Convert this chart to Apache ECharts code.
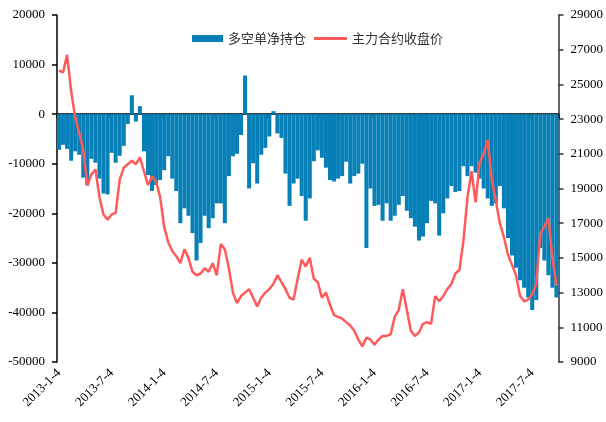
<!DOCTYPE html>
<html>
<head>
<meta charset="utf-8">
<script src="https://cdn.jsdelivr.net/npm/echarts@6/dist/echarts.min.js"></script>
<style>
html,body{margin:0;padding:0;background:#fff;}
#chart{width:606px;height:422px;}
</style>
</head>
<body>
<div id="chart"></div>
<script>
// Tick labels on the date axis (one every 13 bi-weekly periods)
var tickLabels = ['2013-1-4','2013-7-4','2014-1-4','2014-7-4','2015-1-4','2015-7-4','2016-1-4','2016-7-4','2017-1-4','2017-7-4'];

// 多空单净持仓 (bi-weekly samples)
var netPosition = [
  -7200,-6200,-7000,-9400,-7500,-8200,-12800,-14400,-9000,-9800,
  -13000,-16000,-16200,-7800,-9800,-8400,-6400,-2000,3800,-1500,
  1600,-7500,-12300,-15500,-14300,-13300,-11300,-8500,-13000,-15500,
  -22000,-19000,-20500,-24000,-29500,-26000,-20500,-23000,-21000,-18000,
  -18000,-22000,-12500,-8500,-8000,-4200,7800,-15000,-9900,-14000,
  -8200,-6800,-4500,600,-3900,-4800,-12000,-18500,-14000,-13000,
  -16500,-21500,-17000,-9500,-7300,-8800,-10800,-13300,-13600,-13000,
  -12500,-9600,-14000,-12500,-12000,-10000,-27000,-15000,-18500,-18300,
  -21500,-18000,-21500,-20500,-18300,-16500,-19500,-21000,-22700,-25500,
  -24700,-22000,-17500,-18000,-24500,-20000,-17000,-14500,-15700,-15500,
  -10500,-12500,-10500,-11800,-13000,-15000,-17000,-18500,-18000,-14500,
  -19000,-25000,-28500,-31000,-33500,-35000,-37000,-39500,-37500,-27000,
  -29500,-32500,-35000,-37000
];

// 主力合约收盘价 (bi-weekly samples)
var closePrice = [
  25800,25700,26700,24600,23100,22200,21200,19200,19800,20100,
  18500,17500,17200,17500,17600,19500,20200,20400,20600,20400,
  20800,20000,19200,19700,19400,18500,16800,15900,15400,15100,
  14700,15500,15000,14200,14000,14100,14400,14200,14700,14000,
  15800,15500,14400,13000,12400,12800,13000,13200,12700,12200,
  12700,13000,13200,13500,14000,13600,13200,12700,12600,13800,
  14900,14500,15000,13800,13600,12700,13000,12300,11700,11600,
  11500,11300,11100,10800,10300,9900,10400,10300,10000,10300,
  10500,10500,10600,11600,12000,13200,12000,10800,10500,10700,
  11200,11300,11200,12800,12500,12800,13200,13500,14100,14300,
  16000,18500,20000,18200,20500,21000,21800,19500,18300,17000,
  16200,15200,14600,14000,12800,12500,12600,12900,13500,16400,
  16800,17300,15000,13400
];

var PER_TICK = 13;
var categories = netPosition.map(function (v, i) {
  return (i % PER_TICK === 0 && tickLabels[i / PER_TICK]) ? tickLabels[i / PER_TICK] : ('p' + i);
});

var serif = "'Liberation Serif','Times New Roman',serif";
var legendText = {fontFamily: "'Noto Sans CJK SC'", fontSize: 13, color: '#333'};
var plain = function (v) { return String(v); };
var chart = echarts.init(document.getElementById('chart'), null, {renderer: 'canvas'});
chart.setOption({
  animation: false,
  backgroundColor: '#fff',
  grid: {left: 57, right: 47, top: 15, bottom: 60, containLabel: false},
  legend: [
    {
      left: 187, top: 27, icon: 'rect',
      itemWidth: 31, itemHeight: 7,
      textStyle: legendText,
      data: ['多空单净持仓']
    },
    {
      left: 309, top: 27, icon: 'rect',
      itemWidth: 33, itemHeight: 3,
      textStyle: legendText,
      data: ['主力合约收盘价']
    }
  ],
  xAxis: [
    {
      type: 'category', data: categories, boundaryGap: true, position: 'bottom',
      axisLine: {show: false, onZero: false},
      axisTick: {show: false},
      axisLabel: {
        interval: PER_TICK - 1, rotate: 45, margin: 9,
        fontFamily: serif, fontSize: 13, color: '#000',
        formatter: function (v) { return v.charAt(0) === 'p' ? '' : v; }
      },
      splitLine: {show: false}
    },
    {
      type: 'category', data: categories, boundaryGap: true, position: 'bottom',
      axisLine: {show: true, onZero: true, onZeroAxisIndex: 0, lineStyle: {color: '#000', width: 1.5}},
      axisTick: {show: true, interval: PER_TICK - 1, length: 4, lineStyle: {color: '#000', width: 1.5}},
      axisLabel: {show: false},
      splitLine: {show: false}
    }
  ],
  yAxis: [
    {
      type: 'value', min: -50000, max: 20000, interval: 10000, position: 'left',
      axisLine: {show: true, lineStyle: {color: '#000', width: 1.5}},
      axisTick: {show: true, length: 5, lineStyle: {color: '#000', width: 1.5}},
      axisLabel: {margin: 12, fontFamily: serif, fontSize: 13, color: '#000', formatter: plain},
      splitLine: {show: false}
    },
    {
      type: 'value', min: 9000, max: 29000, interval: 2000, position: 'right',
      axisLine: {show: true, lineStyle: {color: '#333', width: 1.5}},
      axisTick: {show: true, length: 5, lineStyle: {color: '#333', width: 1.5}},
      axisLabel: {margin: 12, fontFamily: serif, fontSize: 13, color: '#000', formatter: plain},
      splitLine: {show: false}
    }
  ],
  series: [
    {
      name: '多空单净持仓', type: 'bar', xAxisIndex: 0, yAxisIndex: 0,
      data: netPosition, barCategoryGap: '0%', barGap: '0%',
      itemStyle: {color: '#0680B6'}, z: 2
    },
    {
      name: '主力合约收盘价', type: 'line', xAxisIndex: 0, yAxisIndex: 1,
      data: closePrice, showSymbol: false, symbol: 'none',
      lineStyle: {color: '#FF5A5A', width: 2.5}, itemStyle: {color: '#FF5A5A'}, z: 3
    }
  ]
});
</script>
</body>
</html>
